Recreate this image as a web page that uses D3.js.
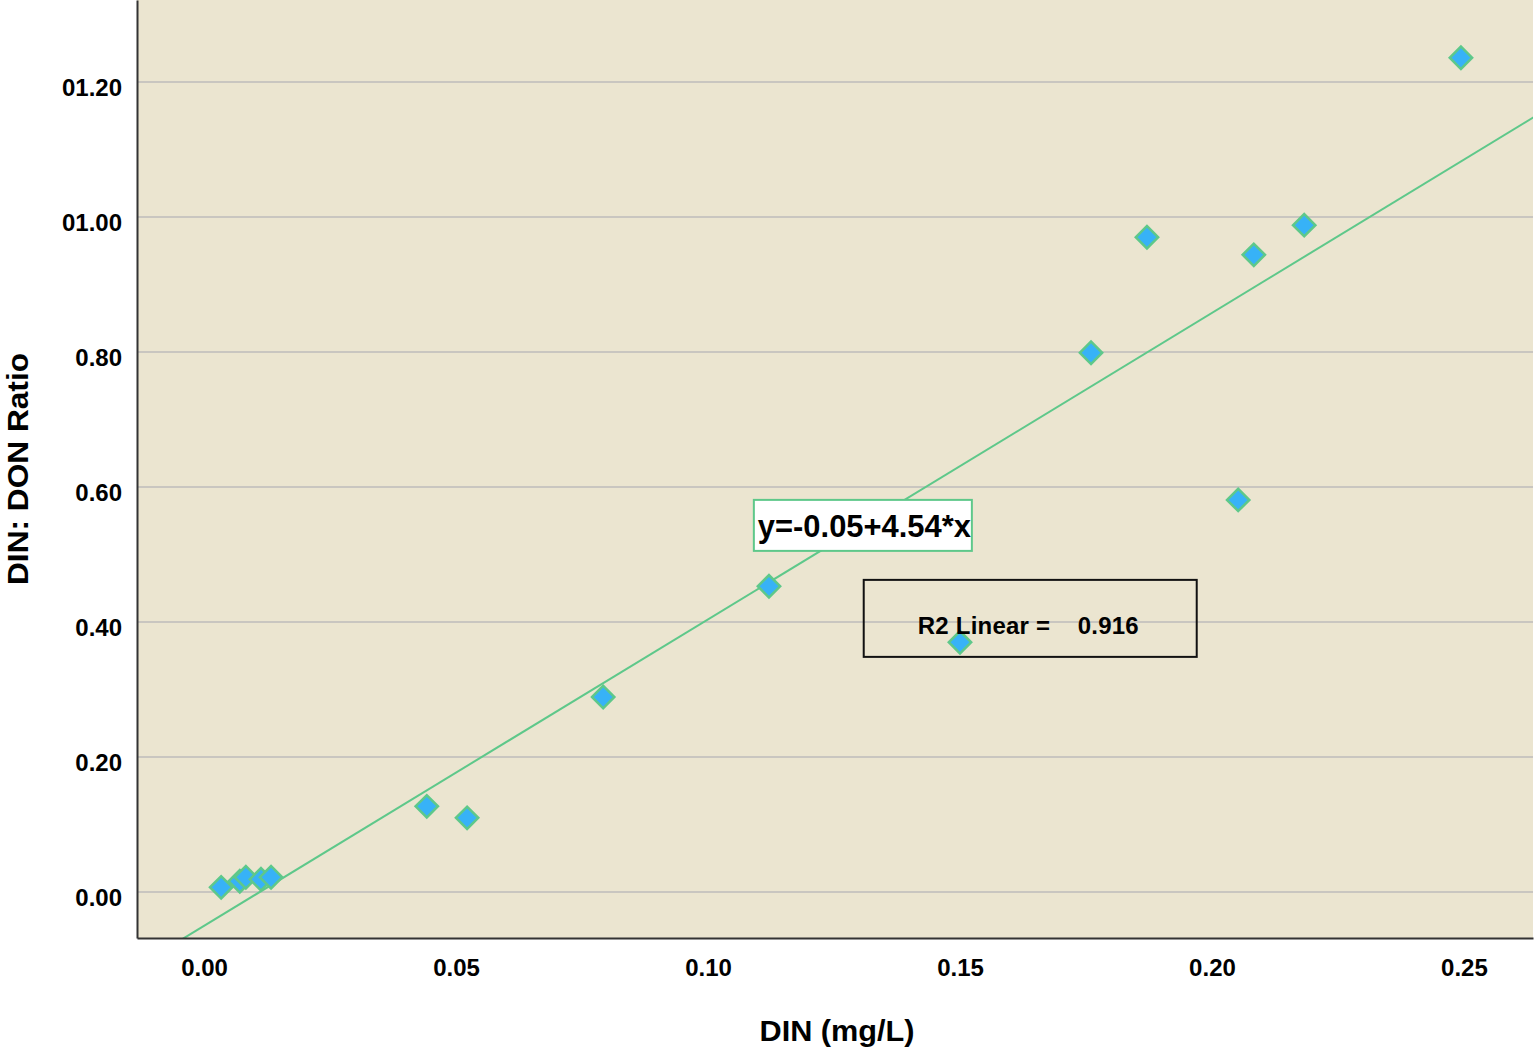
<!DOCTYPE html>
<html>
<head>
<meta charset="utf-8">
<script src="https://cdn.jsdelivr.net/npm/d3@7"></script>
<style>
  body { margin: 0; background: #fff; }
  text { font-family: Arial, "Liberation Sans", sans-serif; }
</style>
</head>
<body>
<div id="chart"></div>
<script>
// DIN (mg/L) values
const din = [0.0034, 0.0071, 0.0083, 0.0113, 0.0133, 0.0442, 0.0522, 0.0792,
             0.1121, 0.1500, 0.1760, 0.1871, 0.2052, 0.2083, 0.2183, 0.2494];
// DIN:DON ratio values
const ratio = [0.007, 0.016, 0.022, 0.019, 0.022, 0.127, 0.110, 0.289,
               0.453, 0.370, 0.799, 0.970, 0.581, 0.944, 0.988, 1.236];
const xTicks = [0.00, 0.05, 0.10, 0.15, 0.20, 0.25];
const yTicks = [0.0, 0.2, 0.4, 0.6, 0.8, 1.0, 1.2];
const yTickLabels = ['0.00', '0.20', '0.40', '0.60', '0.80', '01.00', '01.20'];
const fit = { intercept: -0.05, slope: 4.54 };

const width = 1535, height = 1048;
const margin = { top: 0, right: 2, bottom: 110, left: 137 };
const w = width - margin.left - margin.right;
const h = height - margin.top - margin.bottom;

const svg = d3.select('#chart').append('svg')
    .attr('width', width)
    .attr('height', height);

const g = svg.append('g')
    .attr('transform', 'translate(' + margin.left + ',' + margin.top + ')');

const x = d3.scaleLinear().domain([-0.0133, 0.2637]).range([0, w]);
const y = d3.scaleLinear().domain([-0.068, 1.3215]).range([h, 0]);

g.append('rect')
    .attr('width', w).attr('height', h)
    .attr('fill', '#ebe5d0');

// gridlines
g.append('g')
    .selectAll('line')
    .data(yTicks)
    .enter().append('line')
    .attr('x1', 0).attr('x2', w)
    .attr('y1', d => y(d)).attr('y2', d => y(d))
    .attr('stroke', '#c9c6c0').attr('stroke-width', 2);

g.append('defs').append('clipPath').attr('id', 'clip')
  .append('rect').attr('width', w).attr('height', h);

// fit line
g.append('line')
    .attr('clip-path', 'url(#clip)')
    .attr('x1', x(-0.02)).attr('y1', y(fit.intercept + fit.slope * -0.02))
    .attr('x2', x(0.27)).attr('y2', y(fit.intercept + fit.slope * 0.27))
    .attr('stroke', '#5ec88a').attr('stroke-width', 2);

// points
const sym = d3.symbol().type(d3.symbolSquare).size(250);
g.append('g')
    .selectAll('path')
    .data(din.map((d, i) => [d, ratio[i]]))
    .enter().append('path')
    .attr('d', sym)
    .attr('transform', d => 'translate(' + x(d[0]) + ',' + y(d[1]) + ') rotate(45)')
    .attr('fill', '#37b2f7')
    .attr('stroke', '#5ec88a').attr('stroke-width', 2.5);

// axes
const yAxis = g.append('g')
    .call(d3.axisLeft(y).tickValues(yTicks).tickSize(0).tickPadding(15)
        .tickFormat((d, i) => yTickLabels[i]));
yAxis.select('.domain').attr('stroke', '#333').attr('stroke-width', 2);
yAxis.selectAll('text').attr('font-size', 24).attr('font-weight', 'bold')
    .attr('fill', '#000').attr('dy', '0.55em');

const xAxis = g.append('g')
    .attr('transform', 'translate(0,' + h + ')')
    .call(d3.axisBottom(x).tickValues(xTicks).tickSize(0).tickPadding(21)
        .tickFormat(d3.format('.2f')));
xAxis.select('.domain').attr('stroke', '#333').attr('stroke-width', 2);
xAxis.selectAll('text').attr('font-size', 24).attr('font-weight', 'bold').attr('fill', '#000');

// equation label
const eqX = x(0.1091), eqY = y(0.581);
g.append('rect')
    .attr('x', eqX).attr('y', eqY)
    .attr('width', 218).attr('height', 51)
    .attr('fill', '#fff').attr('stroke', '#5ec88a').attr('stroke-width', 2);
g.append('text')
    .attr('x', eqX + 4).attr('y', eqY + 37)
    .attr('font-size', 31).attr('font-weight', 'bold')
    .attr('textLength', 213).attr('lengthAdjust', 'spacingAndGlyphs')
    .text('y=-0.05+4.54*x');

// R2 box
const rX = x(0.1309), rY = y(0.4625);
g.append('rect')
    .attr('x', rX).attr('y', rY)
    .attr('width', 333).attr('height', 77)
    .attr('fill', 'none').attr('stroke', '#111').attr('stroke-width', 2);
g.append('text')
    .attr('x', rX + 54).attr('y', rY + 54)
    .attr('font-size', 24).attr('font-weight', 'bold')
    .attr('xml:space', 'preserve')
    .style('white-space', 'pre')
    .attr('textLength', 221).attr('lengthAdjust', 'spacing')
    .text('R2 Linear =    0.916');

// axis titles
svg.append('text')
    .attr('x', 837).attr('y', 1041)
    .attr('text-anchor', 'middle')
    .attr('font-size', 30).attr('font-weight', 'bold')
    .attr('textLength', 155).attr('lengthAdjust', 'spacingAndGlyphs')
    .text('DIN (mg/L)');
svg.append('text')
    .attr('transform', 'translate(28,469) rotate(-90)')
    .attr('text-anchor', 'middle')
    .attr('font-size', 30).attr('font-weight', 'bold')
    .attr('textLength', 232).attr('lengthAdjust', 'spacingAndGlyphs')
    .text('DIN: DON Ratio');
</script>
</body>
</html>
